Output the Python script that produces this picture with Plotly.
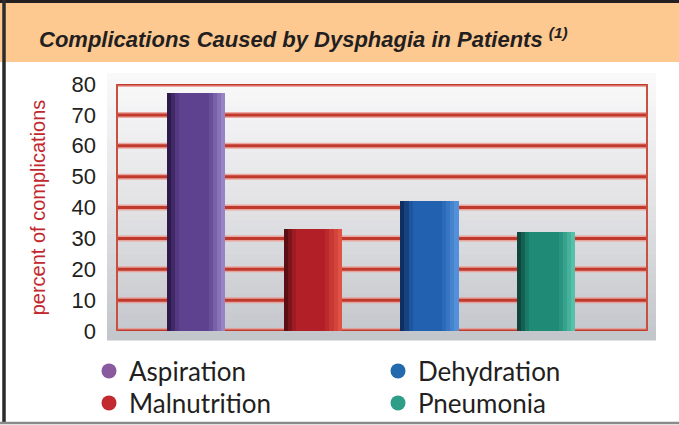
import plotly.graph_objects as go

# ---------------- data ----------------
categories = ["Aspiration", "Malnutrition", "Dehydration", "Pneumonia"]
values = [77, 33, 42, 32]
legend_rows = [["Aspiration", "Dehydration"], ["Malnutrition", "Pneumonia"]]
y_ticks = [0, 10, 20, 30, 40, 50, 60, 70, 80]
title_text = "Complications Caused by Dysphagia in Patients"
title_note = "(1)"
y_title = "percent of complications"

# ---------------- styles ----------------
bar_dark = {"Aspiration": "#25123f", "Malnutrition": "#4a0c12",
            "Dehydration": "#0b2550", "Pneumonia": "#0a3a33"}
bar_mid = {"Aspiration": "#5e4290", "Malnutrition": "#b21f26",
           "Dehydration": "#2161b0", "Pneumonia": "#1f8a76"}
bar_light = {"Aspiration": "#a08ccc", "Malnutrition": "#e65a48",
             "Dehydration": "#5a96e0", "Pneumonia": "#5cc8b0"}
legend_colors = {"Aspiration": "#8a5a9e", "Malnutrition": "#c22a30",
                 "Dehydration": "#2369ad", "Pneumonia": "#2f9e89"}

W, H = 679, 425
PL, PR, PT, PB = 117, 647, 84, 331  # plot area in pixels


def px2x(px):
    return (px - PL) / (PR - PL)


def py2y(py):
    return (PB - py) / (PB - PT)


def hex2rgb(h):
    h = h.lstrip("#")
    return tuple(int(h[i:i + 2], 16) for i in (0, 2, 4))


def blend(c1, c2, t):
    a, b = hex2rgb(c1), hex2rgb(c2)
    return "rgb(%d,%d,%d)" % tuple(round(a[i] + (b[i] - a[i]) * t) for i in range(3))


fig = go.Figure()

# bars drawn as horizontal-gradient strips (overlayed, each extends to the right edge)
N = 14
BW = 0.5
for k in range(N):
    u = (k + 0.5) / N
    cols = []
    for c in categories:
        if u < 0.22:
            cols.append(blend(bar_dark[c], bar_mid[c], u / 0.22))
        elif u < 0.7:
            cols.append(blend(bar_mid[c], bar_mid[c], 0))
        else:
            cols.append(blend(bar_mid[c], bar_light[c], (u - 0.7) / 0.3))
    off = -BW / 2 + k * BW / N
    fig.add_trace(go.Bar(
        x=categories, y=values,
        offset=off, width=BW - k * BW / N,
        marker=dict(color=cols, line=dict(width=0)),
        showlegend=False, hoverinfo="skip" if k else "x+y",
    ))

# legend entries (circles), one horizontal legend per row
for r, row in enumerate(legend_rows):
    for name in row:
        fig.add_trace(go.Scatter(
            x=[None], y=[None], mode="markers", name=name,
            legend="legend" if r == 0 else "legend2",
            marker=dict(symbol="circle", size=15, color=legend_colors[name]),
        ))

shapes = []
# outer frame / title band
shapes.append(dict(type="rect", xref="paper", yref="paper",
                   x0=px2x(0), x1=px2x(W), y0=py2y(62), y1=py2y(2),
                   fillcolor="#fdc991", line=dict(width=0), layer="below"))
shapes.append(dict(type="line", xref="paper", yref="paper",
                   x0=px2x(0), x1=px2x(W), y0=py2y(1.5), y1=py2y(1.5),
                   line=dict(color="#231f20", width=3)))
shapes.append(dict(type="line", xref="paper", yref="paper",
                   x0=px2x(4), x1=px2x(4), y0=py2y(0), y1=py2y(424),
                   line=dict(color="#2b2b2b", width=3.5)))
shapes.append(dict(type="line", xref="paper", yref="paper",
                   x0=px2x(0), x1=px2x(W), y0=py2y(423), y1=py2y(423),
                   line=dict(color="#8a8a8a", width=2.5)))

# grey gradient panel behind the plot
gtop, gbot = 73, 340
steps = 40
top_c, mid_c, bot_c = "#fafafb", "#e2e2e5", "#c2c5ca"
for i in range(steps):
    y0p = gtop + (gbot - gtop) * i / steps
    y1p = gtop + (gbot - gtop) * (i + 1) / steps + 0.6
    t = (i + 0.5) / steps
    col = blend(top_c, mid_c, t / 0.5) if t < 0.5 else blend(mid_c, bot_c, (t - 0.5) / 0.5)
    shapes.append(dict(type="rect", xref="paper", yref="paper",
                       x0=px2x(107), x1=px2x(656), y0=py2y(y1p), y1=py2y(y0p),
                       fillcolor=col, line=dict(width=0), layer="below"))

# red grid lines at the tick values, plus left/right verticals
for v in y_ticks:
    shapes.append(dict(type="line", xref="paper", yref="y", x0=0, x1=1, y0=v, y1=v,
                       line=dict(color="rgba(235,150,140,0.8)", width=6), layer="below"))
    shapes.append(dict(type="line", xref="paper", yref="y", x0=0, x1=1, y0=v, y1=v,
                       line=dict(color="#c0392d", width=3), layer="below"))
for xv in (0, 1):
    shapes.append(dict(type="line", xref="paper", yref="y", x0=xv, x1=xv,
                       y0=y_ticks[0], y1=y_ticks[-1],
                       line=dict(color="#c8503f", width=2), layer="below"))

annotations = [
    dict(xref="paper", yref="paper", x=px2x(37), y=py2y(38),
         xanchor="left", yanchor="middle", showarrow=False,
         text="<b><i>%s</i></b> <sup><b><i>%s</i></b></sup>" % (title_text, title_note),
         font=dict(family="Liberation Sans, Arial, sans-serif", size=22, color="#231f20")),
]

legend_common = dict(orientation="h", xanchor="left", yanchor="middle",
                     entrywidth=244, entrywidthmode="pixels",
                     font=dict(family="Lato, sans-serif", size=26, color="#231f20"),
                     bgcolor="rgba(0,0,0,0)", itemclick=False, itemdoubleclick=False)

fig.update_layout(
    width=W, height=H,
    margin=dict(l=PL, r=W - PR, t=PT, b=H - PB, autoexpand=False),
    paper_bgcolor="white", plot_bgcolor="rgba(0,0,0,0)",
    barmode="overlay", bargap=0,
    shapes=shapes, annotations=annotations,
    showlegend=True,
    legend=dict(x=px2x(89), y=py2y(371), **legend_common),
    legend2=dict(x=px2x(89), y=py2y(403), **legend_common),
    xaxis=dict(type="category", range=[-0.677, 3.865], showticklabels=False,
               showgrid=False, zeroline=False, showline=False, fixedrange=True),
    yaxis=dict(range=[0, 80], tickvals=y_ticks, showgrid=False, zeroline=False,
               showline=False, ticks="", ticklabelstandoff=20,
               tickfont=dict(family="Liberation Sans, Arial, sans-serif", size=22, color="#231f20"),
               title=dict(text=y_title, standoff=20,
                          font=dict(family="Liberation Sans, Arial, sans-serif", size=20, color="#c1272d")),
               fixedrange=True, automargin=False),
)

fig.write_html("out.html", config={"displayModeBar": False},
               post_script="document.body.style.margin='0';")
